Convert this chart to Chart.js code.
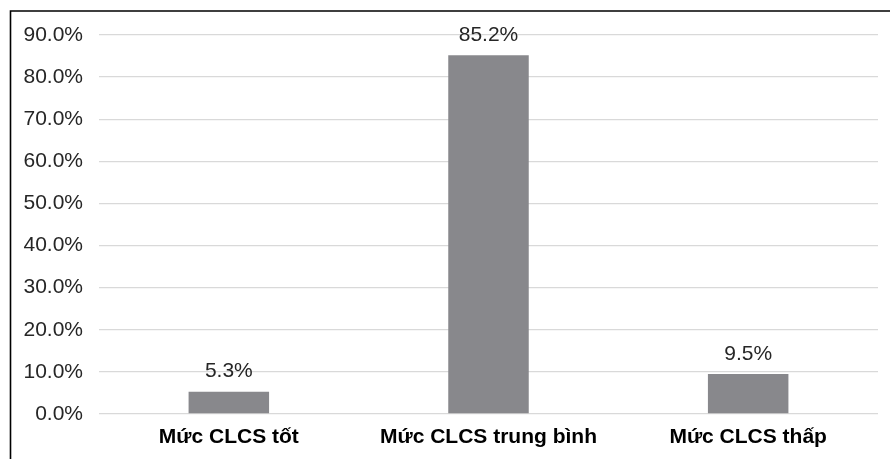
<!DOCTYPE html>
<html>
<head>
<meta charset="utf-8">
<script src="https://cdn.jsdelivr.net/npm/chart.js@4/dist/chart.umd.min.js"></script>
<style>
  html, body { margin: 0; padding: 0; background: #ffffff; }
  #wrap { position: relative; width: 890px; height: 459px; }
</style>
</head>
<body>
<div id="wrap"><canvas id="c" width="890" height="459"></canvas></div>
<script>
const categories = ["Mức CLCS tốt", "Mức CLCS trung bình", "Mức CLCS thấp"];
const values = [5.3, 85.2, 9.5];
const valueLabels = ["5.3%", "85.2%", "9.5%"];
const yTicks = [0, 10, 20, 30, 40, 50, 60, 70, 80, 90];

const FONT = "'Liberation Sans', Arial, Helvetica, sans-serif";

const framePlugin = {
  id: 'frame',
  beforeDraw(chart) {
    const ctx = chart.ctx;
    ctx.save();
    ctx.fillStyle = '#ffffff';
    ctx.fillRect(0, 0, chart.width, chart.height);
    ctx.strokeStyle = '#000000';
    ctx.lineWidth = 1.6;
    ctx.beginPath();
    ctx.moveTo(10.5, chart.height + 5);
    ctx.lineTo(10.5, 11);
    ctx.lineTo(chart.width + 5, 11);
    ctx.stroke();
    ctx.restore();
  }
};

const valueLabelPlugin = {
  id: 'valueLabels',
  afterDatasetsDraw(chart) {
    const ctx = chart.ctx;
    const meta = chart.getDatasetMeta(0);
    ctx.save();
    ctx.font = "21px " + FONT;
    ctx.fillStyle = '#262626';
    ctx.textAlign = 'center';
    ctx.textBaseline = 'middle';
    meta.data.forEach((bar, i) => {
      ctx.fillText(valueLabels[i], bar.x, bar.y - 20);
    });
    ctx.restore();
  }
};

new Chart(document.getElementById('c'), {
  type: 'bar',
  data: {
    labels: categories,
    datasets: [{
      data: values,
      backgroundColor: '#88888c',
      borderWidth: 0,
      categoryPercentage: 1.0,
      barPercentage: 0.31
    }]
  },
  options: {
    responsive: false,
    animation: false,
    maintainAspectRatio: false,
    layout: { padding: { left: 10, right: 12, top: 35, bottom: 0 } },
    plugins: { legend: { display: false }, tooltip: { enabled: false } },
    scales: {
      x: {
        grid: { display: false, drawTicks: false },
        border: { display: false },
        ticks: {
          color: '#000000',
          font: { family: FONT, size: 21, weight: 'bold' },
          padding: 11,
          maxRotation: 0
        },
        afterFit(scale) { scale.height = 45; }
      },
      y: {
        min: 0,
        max: 90,
        afterBuildTicks(scale) { scale.ticks = yTicks.map(v => ({ value: v })); },
        grid: { color: '#d9d9d9', lineWidth: 1.3, drawTicks: false },
        border: { display: false },
        ticks: {
          color: '#262626',
          font: { family: FONT, size: 21 },
          padding: 16,
          callback: v => v.toFixed(1) + '%'
        },
        afterFit(scale) { scale.width = 89; }
      }
    }
  },
  plugins: [framePlugin, valueLabelPlugin]
});
</script>
</body>
</html>
